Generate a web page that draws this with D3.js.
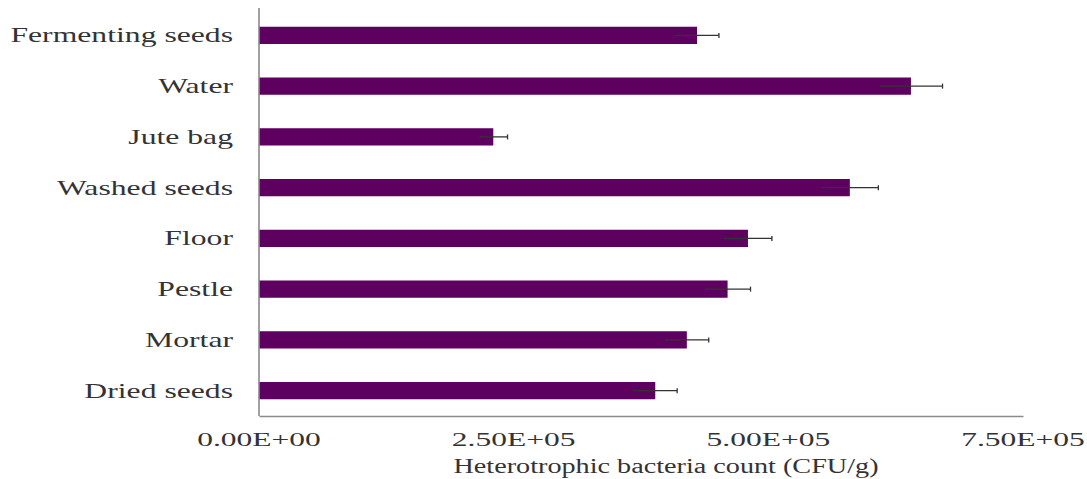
<!DOCTYPE html>
<html>
<head>
<meta charset="utf-8">
<script src="https://cdnjs.cloudflare.com/ajax/libs/d3/7.8.5/d3.min.js"></script>
<style>
  html, body { margin: 0; padding: 0; background: #fff; }
  svg { display: block; }
  text { font-family: "Liberation Serif", "Times New Roman", serif; fill: #333; }
</style>
</head>
<body>
<svg id="chart" width="1087" height="479"></svg>
<script>
// Sampling sites (top to bottom)
const categories = ["Fermenting seeds", "Water", "Jute bag", "Washed seeds", "Floor", "Pestle", "Mortar", "Dried seeds"];
// Mean heterotrophic bacteria count (CFU/g)
const counts = [430000, 640000, 230000, 580000, 480000, 460000, 420000, 389000];
// Standard error of each mean (CFU/g)
const errors = [21500, 31000, 14000, 28000, 23500, 22500, 21500, 21500];
// Axis tick values
const tickValues = [0, 250000, 500000, 750000];
const tickLabels = ["0.00E+00", "2.50E+05", "5.00E+05", "7.50E+05"];
const xTitle = "Heterotrophic bacteria count (CFU/g)";

const svg = d3.select("#chart");
const margin = { top: 10, left: 259, right: 64, bottom: 63 };
const W = 1087, H = 479;

const x = d3.scaleLinear().domain([0, 750000]).range([margin.left, W - margin.right]);
const y = d3.scaleBand().domain(categories).range([margin.top, H - margin.bottom]).paddingInner(0.66).paddingOuter(0.33);

const barColor = "#5e0060";
const axisColor = "#8a8a8a";

// bars
svg.append("g").selectAll("rect").data(categories).join("rect")
  .attr("x", x(0))
  .attr("y", d => y(d))
  .attr("width", (d, i) => x(counts[i]) - x(0))
  .attr("height", y.bandwidth())
  .attr("fill", barColor);

// error bars
const eb = svg.append("g").attr("stroke", "#333").attr("stroke-width", 1.3);
categories.forEach((c, i) => {
  const cy = y(c) + y.bandwidth() / 2;
  eb.append("line")
    .attr("x1", x(counts[i] - errors[i])).attr("x2", x(counts[i] + errors[i]))
    .attr("y1", cy).attr("y2", cy);
  eb.append("line")
    .attr("x1", x(counts[i] + errors[i])).attr("x2", x(counts[i] + errors[i]))
    .attr("y1", cy - 2.5).attr("y2", cy + 2.5);
});

// axes
const xAxis = d3.axisBottom(x).tickValues(tickValues).tickSize(0).tickFormat("");
svg.append("g").attr("transform", `translate(0,${H - margin.bottom})`).call(xAxis)
  .call(g => g.select(".domain").attr("stroke", axisColor).attr("stroke-width", 1.6));
const yAxis = d3.axisLeft(y).tickSize(0).tickFormat("");
svg.append("g").attr("transform", `translate(${margin.left},0)`).call(yAxis)
  .call(g => g.select(".domain").attr("stroke", axisColor).attr("stroke-width", 1.6).attr("d", `M0,${margin.top - 2}V${H - margin.bottom}`));

// text with horizontal stretch
function stretchedText(parent, tx, ty, str, size, sx, anchor) {
  parent.append("g").attr("transform", `translate(${tx},${ty}) scale(${sx},1)`)
    .append("text").attr("text-anchor", anchor).attr("font-size", size).text(str);
}

const labels = svg.append("g");
categories.forEach(c => {
  stretchedText(labels, 233, y(c) + y.bandwidth() / 2 + 7, c, 22, 1.44, "end");
});
tickValues.forEach((v, i) => {
  stretchedText(labels, x(v), 446, tickLabels[i], 19, 1.66, "middle");
});
stretchedText(labels, 666, 473, xTitle, 20, 1.41, "middle");
</script>
</body>
</html>
